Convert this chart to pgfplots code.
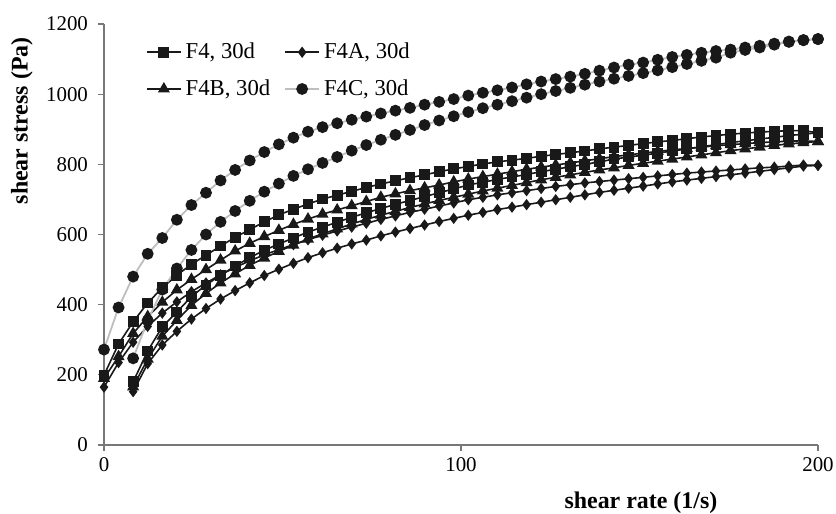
\documentclass[border=0pt]{standalone}
\usepackage{fontspec}
\setmainfont{Liberation Serif}
\usepackage{pgfplots}
\usepackage{pgfplotstable}
\pgfplotsset{compat=1.18}

\definecolor{lgray}{RGB}{190,190,190}
\definecolor{axgray}{RGB}{120,120,120}

% descending ramp (upper branch of each loop)
\pgfplotstableread{
x F4 F4A F4B F4C
200.00 890 797 865 1157
195.92 896 798 867 1154
191.84 896 795 866 1150
187.76 894 792 864 1144
183.67 892 790 862 1138
179.59 889 787 859 1133
175.51 886 784 856 1127
171.43 882 781 853 1123
167.35 878 778 849 1118
163.27 873 775 845 1112
159.18 868 771 841 1106
155.10 864 767 837 1098
151.02 859 763 832 1090
146.94 854 759 827 1084
142.86 849 755 822 1076
138.78 844 751 816 1067
134.69 838 747 810 1058
130.61 833 742 804 1050
126.53 828 737 798 1043
122.45 823 731 792 1036
118.37 817 725 786 1028
114.29 812 719 779 1019
110.20 807 713 772 1011
106.12 801 706 765 1004
102.04 794 699 758 996
97.96 787 690 750 986
93.88 779 681 741 978
89.80 770 672 733 970
85.71 762 663 725 961
81.63 753 653 716 953
77.55 744 643 706 945
73.47 734 632 694 936
69.39 723 621 682 927
65.31 712 610 670 917
61.22 701 598 658 906
57.14 687 585 644 893
53.06 672 571 629 876
48.98 656 557 612 857
44.90 636 542 594 835
40.82 614 525 575 811
36.73 592 506 553 784
32.65 567 485 527 754
28.57 541 462 500 719
24.49 515 437 472 684
20.41 484 408 442 642
16.33 448 376 407 590
12.24 405 338 366 545
8.16 351 293 318 480
4.08 288 235 252 392
0.00 199 165 190 272
}\down

% ascending ramp (lower branch of each loop)
\pgfplotstableread{
x F4 F4A F4B F4C
8.16 180 152 166 247
12.24 268 232 245 355
16.33 337 285 310 443
20.41 379 324 355 503
24.49 423 359 398 556
28.57 456 389 432 600
32.65 484 416 462 636
36.73 510 440 488 667
40.82 534 462 512 696
44.90 555 483 533 722
48.98 573 501 552 745
53.06 590 518 570 767
57.14 607 534 587 786
61.22 621 548 602 804
65.31 635 561 616 821
69.39 649 573 630 839
73.47 662 584 643 855
77.55 674 596 655 870
81.63 686 607 666 884
85.71 697 617 677 898
89.80 708 627 687 912
93.88 719 637 697 925
97.96 730 646 706 937
102.04 741 655 715 949
106.12 749 663 724 960
110.20 757 671 732 970
114.29 764 678 740 980
118.37 771 685 748 990
122.45 779 692 756 1000
126.53 786 699 763 1009
130.61 793 706 770 1018
134.69 800 713 777 1027
138.78 807 720 784 1036
142.86 815 726 790 1044
146.94 821 732 797 1052
151.02 826 738 803 1060
155.10 832 744 809 1068
159.18 838 750 815 1077
163.27 844 755 821 1086
167.35 850 760 827 1095
171.43 856 765 833 1104
175.51 862 770 839 1118
179.59 867 775 844 1126
183.67 872 780 849 1133
187.76 877 785 854 1141
191.84 882 790 858 1149
195.92 886 795 862 1154
200.00 890 797 865 1157
}\up

\pgfplotsset{
  sF4/.style={black!90, line width=0.8pt, mark=square*, mark size=2.3bp, mark options={solid, fill=black!90}},
  sF4A/.style={black!90, line width=0.8pt, mark=diamond*, mark size=2.2bp, mark options={solid, fill=black!90}},
  sF4B/.style={black!90, line width=0.8pt, mark=triangle*, mark size=2.7bp, mark options={solid, fill=black!90}},
  sF4C/.style={lgray, line width=0.9pt, mark=*, mark size=2.5bp, mark options={solid, draw=black!90, fill=black!90}},
}

\begin{document}
\begin{tikzpicture}
\begin{axis}[
  scale only axis, width=357bp, height=210.5bp,
  xmin=0, xmax=200, ymin=0, ymax=1200,
  axis x line*=bottom, axis y line*=left,
  axis line style={draw=axgray, line width=0.6pt},
  xtick={0,100,200}, ytick={0,200,...,1200},
  tick align=outside, major tick length=3bp,
  tick style={axgray, line width=0.6pt},
  ticklabel style={font=\fontsize{10.5}{12}\selectfont},
  yticklabel style={xshift=-1.5bp},
  /pgf/number format/assume math mode=true,
  /pgf/number format/1000 sep={},
  xlabel={shear rate (1/s)}, ylabel={shear stress (Pa)},
  label style={font=\bfseries\fontsize{12}{14}\selectfont},
  xlabel style={at={(axis description cs:0.752,-0.138)}, anchor=center},
  ylabel style={at={(axis description cs:-0.115,0.77)}, anchor=center},
  legend columns=2, legend cell align=left,
  legend style={at={(axis description cs:0.05,0.975)}, anchor=north west,
    draw=none, fill=none, font=\fontsize{11.4}{13}\selectfont,
    /tikz/every even column/.append style={column sep=5bp}, row sep=5bp},
]
\addplot[sF4] table[x=x, y=F4]{\down};
\addlegendentry{F4, 30d}
\addplot[sF4, forget plot] table[x=x, y=F4]{\up};
\addplot[sF4A] table[x=x, y=F4A]{\down};
\addlegendentry{F4A, 30d}
\addplot[sF4A, forget plot] table[x=x, y=F4A]{\up};
\addplot[sF4B] table[x=x, y=F4B]{\down};
\addlegendentry{F4B, 30d}
\addplot[sF4B, forget plot] table[x=x, y=F4B]{\up};
\addplot[sF4C] table[x=x, y=F4C]{\down};
\addlegendentry{F4C, 30d}
\addplot[sF4C, forget plot] table[x=x, y=F4C]{\up};
\end{axis}
\pgfresetboundingbox
\path ([shift={(-52bp,-34.5bp)}]current axis.south west) rectangle ([shift={(9bp,12bp)}]current axis.north east);
\end{tikzpicture}
\end{document}
